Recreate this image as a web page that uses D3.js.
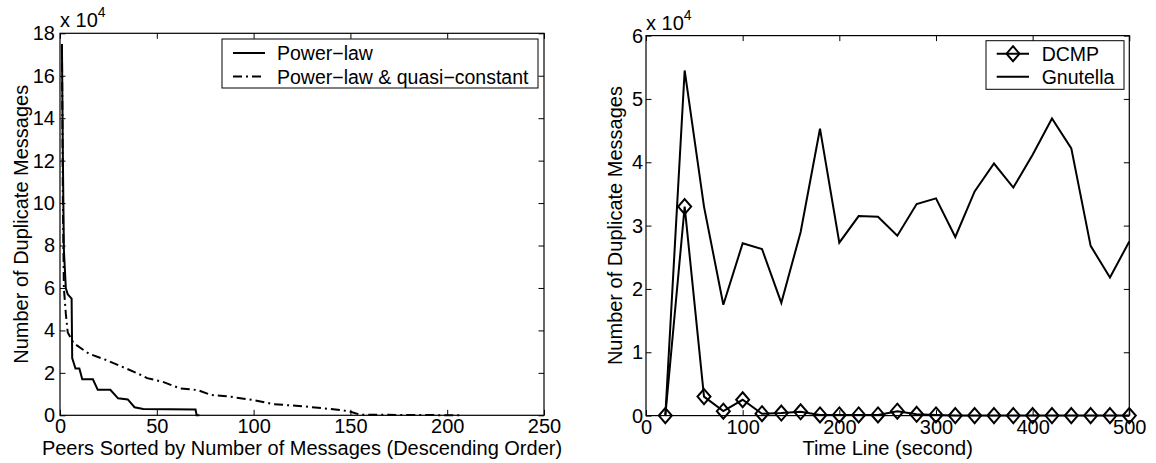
<!DOCTYPE html>
<html>
<head>
<meta charset="utf-8">
<script src="https://cdn.jsdelivr.net/npm/d3@7"></script>
<style>
body { margin: 0; background: #fff; }
svg text { font-family: "Liberation Sans", Arial, Helvetica, sans-serif; fill: #000; }
</style>
</head>
<body>
<div id="main"></div>
<script>
"use strict";
// all message counts are in units of 10^4
var powerLawRank = [1, 1.5, 2, 3, 4, 6, 6.3, 8, 10, 11.5, 17, 19.5, 26, 30, 35, 38.5, 43, 70, 70.6, 72];
var powerLawMsgs = [17.4, 12, 7.8, 6, 5.7, 5.5, 2.7, 2.2, 2.2, 1.7, 1.7, 1.2, 1.2, 0.8, 0.75, 0.38, 0.3, 0.27, 0, 0];
var quasiRank = [1, 1.5, 2, 3, 4, 7, 15, 24, 33, 40, 45, 53, 62, 71, 78, 86, 100, 110, 127, 145, 150, 155, 208];
var quasiMsgs = [17.5, 10, 6, 4.8, 3.9, 3.4, 2.9, 2.6, 2.25, 1.98, 1.75, 1.58, 1.27, 1.19, 0.96, 0.9, 0.72, 0.53, 0.41, 0.25, 0.17, 0.03, 0];

var timeLine = [20, 40, 60, 80, 100, 120, 140, 160, 180, 200, 220, 240, 260, 280, 300, 320, 340, 360, 380, 400, 420, 440, 460, 480, 500];
var dcmpMsgs = [0, 3.3, 0.3, 0.07, 0.25, 0.03, 0.04, 0.06, 0.01, 0.01, 0.01, 0.01, 0.07, 0.02, 0.01, 0, 0, 0, 0, 0, 0, 0, 0, 0, 0];
var gnutellaMsgs = [0, 5.45, 3.3, 1.75, 2.72, 2.63, 1.78, 2.9, 4.53, 2.73, 3.15, 3.14, 2.84, 3.34, 3.43, 2.82, 3.54, 3.98, 3.6, 4.12, 4.69, 4.22, 2.68, 2.18, 2.75];

var leftXTicks = [0, 50, 100, 150, 200, 250];
var leftYTicks = [0, 2, 4, 6, 8, 10, 12, 14, 16, 18];
var rightXTicks = [0, 100, 200, 300, 400, 500];
var rightYTicks = [0, 1, 2, 3, 4, 5, 6];

var CH = {
  w: 1156,
  h: 463,
  fs: 20,
  lfs: 19.5,
  svg: null,
  init: function() {
    this.svg = d3.select("#main").append("svg")
      .attr("width", CH.w).attr("height", CH.h);
    this.drawLeft();
    this.drawRight();
  },
  panel: function(c) {
    var g = CH.svg.append("g");
    var x = d3.scaleLinear().domain(c.xDomain).range([c.left, c.right]);
    var y = d3.scaleLinear().domain(c.yDomain).range([c.bottom, c.top]);
    var tl = 5.5;
    var fmt = d3.format("d");

    g.append("g").attr("transform", "translate(0," + c.bottom + ")")
      .call(d3.axisBottom(x).tickValues(c.xTicks).tickFormat(fmt).tickSizeInner(-tl).tickSizeOuter(0).tickPadding(4));
    g.append("g").attr("transform", "translate(0," + c.top + ")")
      .call(d3.axisTop(x).tickValues(c.xTicks).tickSizeInner(-tl).tickSizeOuter(0).tickFormat(""));
    g.append("g").attr("transform", "translate(" + c.left + ",0)")
      .call(d3.axisLeft(y).tickValues(c.yTicks).tickFormat(fmt).tickSizeInner(-tl).tickSizeOuter(0).tickPadding(c.yPad));
    g.append("g").attr("transform", "translate(" + c.right + ",0)")
      .call(d3.axisRight(y).tickValues(c.yTicks).tickSizeInner(-tl).tickSizeOuter(0).tickFormat(""));
    g.selectAll(".domain").remove();
    g.selectAll(".tick line").attr("stroke", "#000").attr("stroke-width", 1);
    g.selectAll(".tick text").attr("font-size", CH.fs).attr("font-family", null);

    g.append("rect")
      .attr("x", c.left).attr("y", c.top)
      .attr("width", c.right - c.left).attr("height", c.bottom - c.top)
      .attr("fill", "none").attr("stroke", "#000").attr("stroke-width", 1.2);

    var ex = g.append("text").attr("x", c.left).attr("y", c.top - 6).attr("font-size", CH.fs).text("x 10");
    ex.append("tspan").attr("dy", -10).attr("font-size", 14).text("4");

    g.append("text")
      .attr("x", (c.left + c.right) / 2).attr("y", 455)
      .attr("text-anchor", "middle").attr("font-size", CH.fs)
      .text(c.xLabel);
    g.append("text")
      .attr("transform", "translate(" + c.yLabelX + "," + ((c.top + c.bottom) / 2) + ") rotate(-90)")
      .attr("text-anchor", "middle").attr("font-size", CH.fs)
      .text(c.yLabel);
    return { g: g, x: x, y: y };
  },
  drawLeft: function() {
    var p = CH.panel({
      left: 60, right: 544, top: 33.3, bottom: 415.3,
      xDomain: [0, 250], yDomain: [0, 18],
      xTicks: leftXTicks, yTicks: leftYTicks, yPad: 5,
      xLabel: "Peers Sorted by Number of Messages (Descending Order)",
      yLabel: "Number of Duplicate Messages", yLabelX: 28
    });
    var line = d3.line().x(function(d) { return p.x(d[0]); }).y(function(d) { return p.y(d[1]); });
    p.g.append("path").datum(d3.zip(quasiRank, quasiMsgs))
      .attr("d", line).attr("fill", "none").attr("stroke", "#000")
      .attr("stroke-width", 2).attr("stroke-dasharray", "9,4,2,4");
    p.g.append("path").datum(d3.zip(powerLawRank, powerLawMsgs))
      .attr("d", line).attr("fill", "none").attr("stroke", "#000")
      .attr("stroke-width", 2).attr("stroke-linejoin", "miter");

    // legend
    var lg = p.g.append("g");
    lg.append("rect").attr("x", 222).attr("y", 39).attr("width", 316).attr("height", 49)
      .attr("fill", "#fff").attr("stroke", "#000").attr("stroke-width", 1);
    [["Power\u2212law", null], ["Power\u2212law & quasi\u2212constant", "9,4,2,4"]].forEach(function(e, i) {
      var yy = 53 + i * 23.5;
      lg.append("line").attr("x1", 233).attr("x2", 265).attr("y1", yy).attr("y2", yy)
        .attr("stroke", "#000").attr("stroke-width", 2).attr("stroke-dasharray", e[1]);
      lg.append("text").attr("x", 277).attr("y", yy + 7).attr("font-size", CH.lfs).text(e[0]);
    });
  },
  drawRight: function() {
    var p = CH.panel({
      left: 646, right: 1129.3, top: 35.6, bottom: 415.6,
      xDomain: [0, 500], yDomain: [0, 6],
      xTicks: rightXTicks, yTicks: rightYTicks, yPad: 3,
      xLabel: "Time Line (second)",
      yLabel: "Number of Duplicate Messages", yLabelX: 622
    });
    var line = d3.line().x(function(d) { return p.x(d[0]); }).y(function(d) { return p.y(d[1]); });
    var diamond = function(cx, cy) {
      return "M" + cx + "," + (cy - 7.5) + "L" + (cx + 6.5) + "," + cy + "L" + cx + "," + (cy + 7.5) + "L" + (cx - 6.5) + "," + cy + "Z";
    };
    p.g.append("path").datum(d3.zip(timeLine, gnutellaMsgs))
      .attr("d", line).attr("fill", "none").attr("stroke", "#000").attr("stroke-width", 2);
    p.g.append("path").datum(d3.zip(timeLine, dcmpMsgs))
      .attr("d", line).attr("fill", "none").attr("stroke", "#000").attr("stroke-width", 2);
    p.g.selectAll(".dm").data(d3.zip(timeLine, dcmpMsgs)).enter().append("path")
      .attr("class", "dm")
      .attr("d", function(d) { return diamond(p.x(d[0]), p.y(d[1])); })
      .attr("fill", "none").attr("stroke", "#000").attr("stroke-width", 2);

    // legend
    var lg = p.g.append("g");
    lg.append("rect").attr("x", 986).attr("y", 40.7).attr("width", 138).attr("height", 48.6)
      .attr("fill", "#fff").attr("stroke", "#000").attr("stroke-width", 1);
    ["DCMP", "Gnutella"].forEach(function(name, i) {
      var yy = 53.7 + i * 23;
      lg.append("line").attr("x1", 996.7).attr("x2", 1029).attr("y1", yy).attr("y2", yy)
        .attr("stroke", "#000").attr("stroke-width", 2);
      if (i === 0) {
        lg.append("path").attr("d", diamond(1013, yy))
          .attr("fill", "none").attr("stroke", "#000").attr("stroke-width", 2);
      }
      lg.append("text").attr("x", 1041.7).attr("y", yy + 7).attr("font-size", CH.lfs).text(name);
    });
  }
};
CH.init();
</script>
</body>
</html>
